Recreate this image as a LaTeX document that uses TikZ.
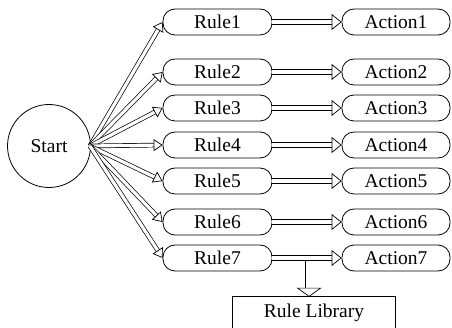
\documentclass[tikz,border=0pt]{standalone}
\usepackage{fontspec}
\setmainfont{Liberation Serif}
\usetikzlibrary{arrows.meta,calc}
\begin{document}
\begin{tikzpicture}[x=1pt,y=-1pt,
  font=\fontsize{19.5}{22}\selectfont,
  box/.style={draw, line width=0.8pt, rounded corners=12pt, minimum height=26pt, inner sep=0pt},
  rulebox/.style={box, minimum width=109pt},
  actbox/.style={box, minimum width=108pt},
  startnode/.style={draw, circle, line width=0.8pt, minimum size=83pt, inner sep=0pt},
  fanarrow/.style={double=white, double distance=3.2pt, line width=0.7pt,
     -{Triangle[open, length=9pt, width=12pt, line width=0.7pt]}},
  harrow/.style={double=white, double distance=4.6pt, line width=0.7pt,
     -{Triangle[open, length=10pt, width=16pt, line width=0.7pt]}},
  varrow/.style={double=white, double distance=7pt, line width=0.7pt,
     -{Triangle[open, length=9pt, width=25pt, line width=0.7pt]}}
]
\useasboundingbox (0,0) rectangle (452,328);

\node[startnode] (s) at (49,146) {Start};

\foreach \i/\y in {1/22,2/72,3/108,4/145,5/181,6/222,7/258}{
  \node[rulebox] (r\i) at (217.5,\y) {Rule\i};
  \node[actbox] (a\i) at (396,\y) {Action\i};
}

\node[minimum width=162pt, minimum height=31pt, inner sep=0pt] (lib) at (314,312.5) {Rule Library};
\draw[line width=0.8pt] (lib.south west) -- (lib.north west) -- (lib.north east) -- (lib.south east);

\foreach \i in {1,...,7}{
  \draw[fanarrow] ([xshift=-1pt]s.east) -- (r\i.west);
  \draw[harrow] (r\i.east) -- (a\i.west);
}

\coordinate (m7) at ($(r7.east)!0.53!(a7.west)+(0,3.5)$);
\draw[varrow] (m7) -- (m7 |- lib.north);
\end{tikzpicture}
\end{document}
